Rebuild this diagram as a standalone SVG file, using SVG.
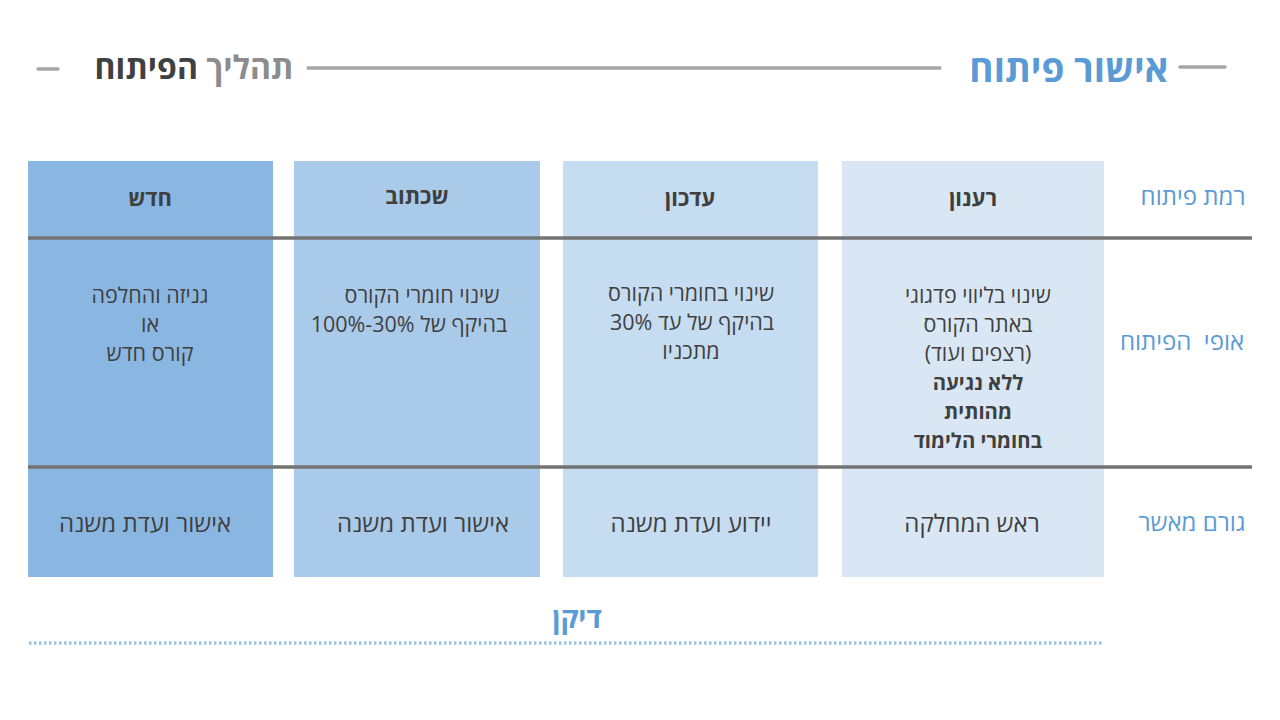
<svg xmlns="http://www.w3.org/2000/svg" width="1280" height="720" viewBox="0 0 1280 720">
<style>
text{font-family:"Open Sans","Liberation Sans","DejaVu Sans",sans-serif;direction:rtl;text-anchor:middle}
.hd{font-size:22px;font-weight:bold;fill:#3F3F3F}
.bd{font-size:21.5px;fill:#3F3F3F}
.bb{font-size:20.3px;font-weight:bold;fill:#3F3F3F}
.ft{font-size:24px;fill:#3F3F3F}
.rl{font-size:24px;fill:#5B9BD5}
.gl{stroke:#A6A6A6;stroke-width:3.5;stroke-linecap:round}
.sep{stroke:#737373;stroke-width:3.5}
</style>
<rect width="1280" height="720" fill="#FFFFFF"/>
<g id="title">
<line class="gl" x1="38" y1="69" x2="58" y2="69"/>
<line class="gl" x1="308" y1="68" x2="940" y2="68"/>
<line class="gl" x1="1180" y1="67" x2="1225" y2="67"/>
<text x="194" y="79" style="font-size:32px;font-weight:bold"><tspan fill="#8C8C8C">תהליך </tspan><tspan fill="#404040">הפיתוח</tspan></text>
<text x="1069" y="82" style="font-size:37px;font-weight:bold;fill:#5B9BD5">אישור פיתוח</text>
</g>
<g id="col-new">
<rect x="28" y="161" width="245" height="416" fill="#8AB7E2"/>
<text class="hd" x="150" y="206">חדש</text>
<text class="bd" x="150" y="303">גניזה והחלפה</text>
<text class="bd" x="150" y="332">או</text>
<text class="bd" x="150" y="361">קורס חדש</text>
<text class="ft" x="145" y="532">אישור ועדת משנה</text>
</g>
<g id="col-rewrite">
<rect x="294" y="161" width="246" height="416" fill="#AACAE9"/>
<text class="hd" x="417" y="204">שכתוב</text>
<text class="bd" x="422" y="303">שינוי חומרי הקורס</text>
<text class="bd" x="409" y="332">בהיקף של 30%-100%</text>
<text class="ft" x="423" y="532">אישור ועדת משנה</text>
</g>
<g id="col-update">
<rect x="563" y="161" width="255" height="416" fill="#C6DCF0"/>
<text class="hd" x="690" y="206">עדכון</text>
<text class="bd" x="691" y="301">שינוי בחומרי הקורס</text>
<text class="bd" x="692" y="330">בהיקף של עד 30%</text>
<text class="bd" x="691" y="359">מתכניו</text>
<text class="ft" x="691" y="532">יידוע ועדת משנה</text>
</g>
<g id="col-refresh">
<rect x="842" y="161" width="262" height="416" fill="#D9E7F5"/>
<text class="hd" x="973" y="206">רענון</text>
<text class="bd" x="978" y="303">שינוי בליווי פדגוגי</text>
<text class="bd" x="978" y="332">באתר הקורס</text>
<text class="bd" x="978" y="361">(רצפים ועוד)</text>
<text class="bb" x="978" y="390">ללא נגיעה</text>
<text class="bb" x="978" y="419">מהותית</text>
<text class="bb" x="978" y="448">בחומרי הלימוד</text>
<text class="ft" x="972" y="532">ראש המחלקה</text>
</g>
<g id="row-labels">
<text class="rl" x="1193" y="205">רמת פיתוח</text>
<text class="rl" x="1182" y="350" xml:space="preserve">אופי  הפיתוח</text>
<text class="rl" x="1192" y="531">גורם מאשר</text>
</g>
<g id="connectors">
<line class="sep" x1="28" y1="238" x2="1252" y2="238"/>
<line class="sep" x1="28" y1="467" x2="1252" y2="467"/>
<line x1="29" y1="643" x2="1104" y2="643" stroke="#9DC3E6" stroke-width="3.5" stroke-dasharray="2.5 2.5"/>
</g>
<g id="dean">
<text x="577" y="628" style="font-size:28px;font-weight:bold;fill:#5B9BD5">דיקן</text>
</g>
</svg>
